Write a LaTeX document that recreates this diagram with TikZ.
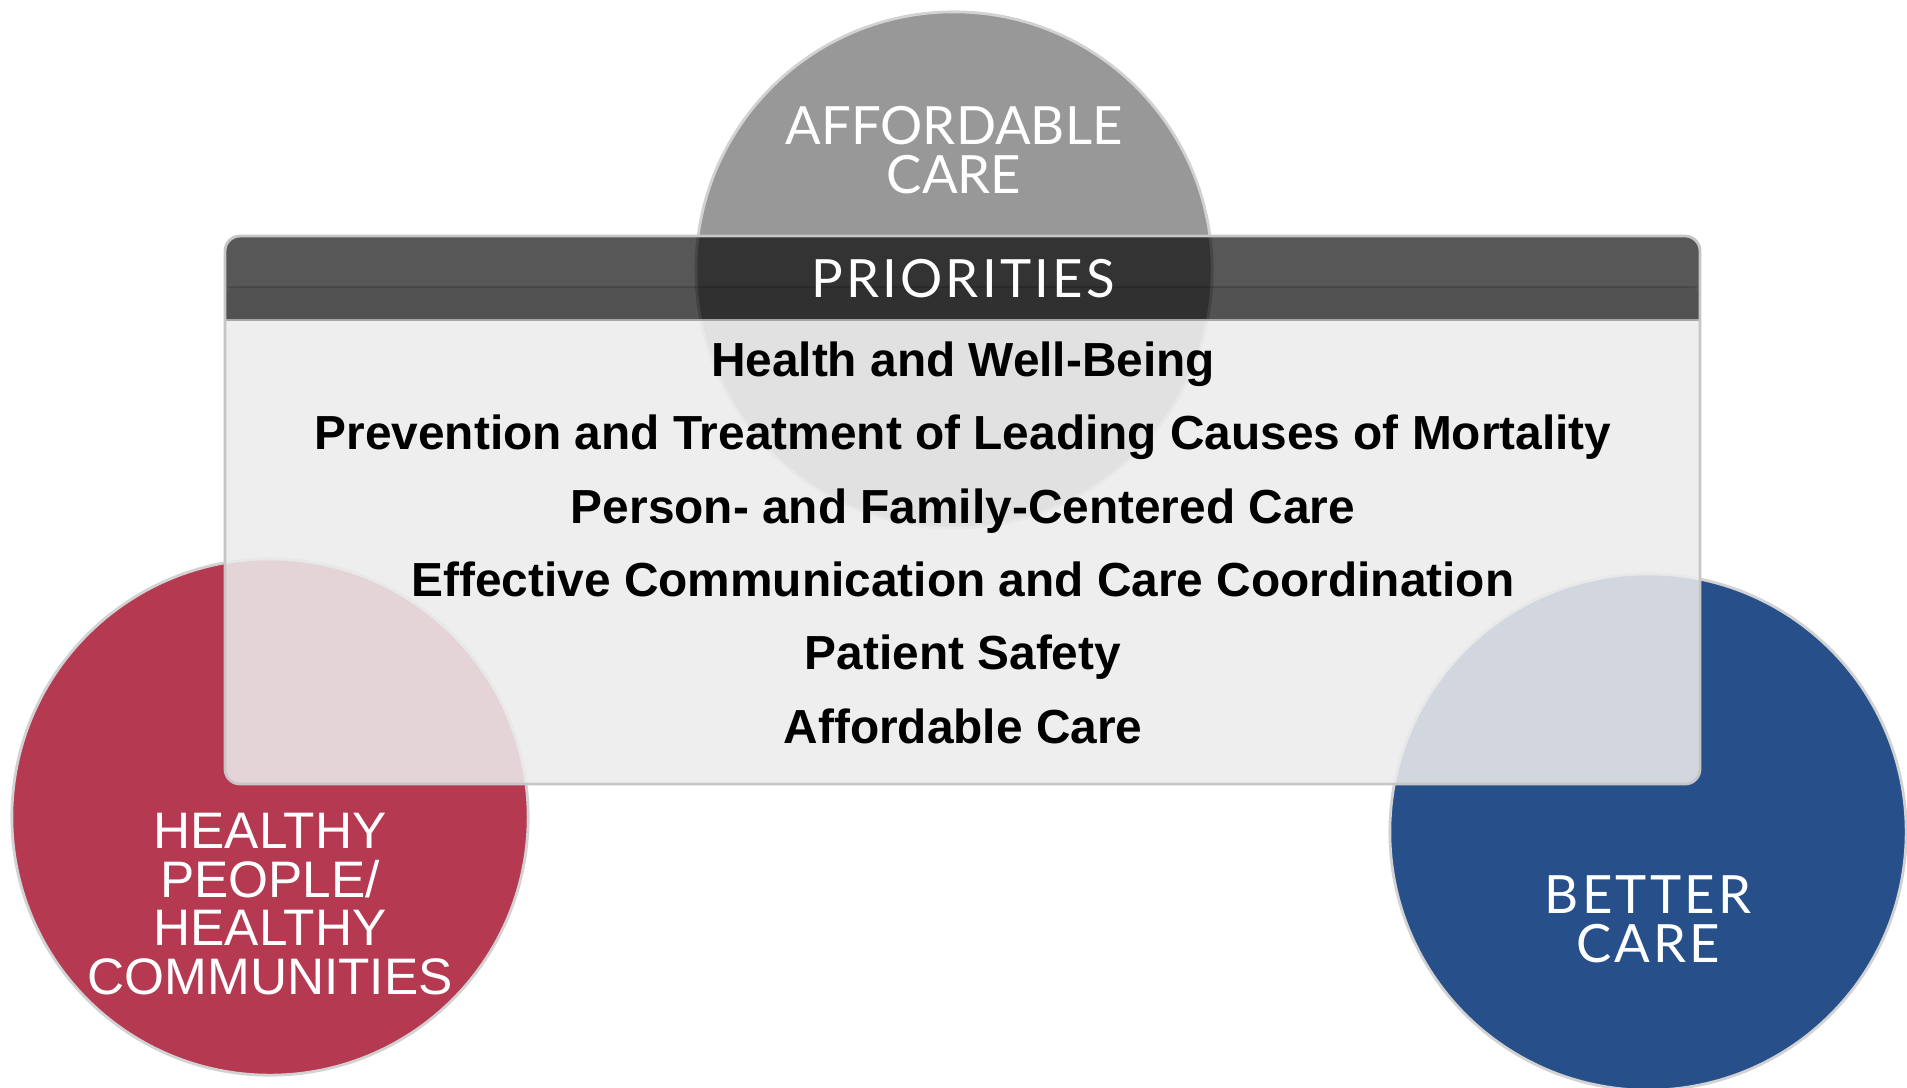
\documentclass[tikz,border=0pt]{standalone}
\usepackage{fontspec}
\setmainfont{Liberation Sans}
\newfontfamily\goalfont[LetterSpace=6]{Lato}
\newfontfamily\narrowgoalfont{Lato}
\usetikzlibrary{positioning}
\definecolor{affordgray}{RGB}{152,152,152}
\definecolor{healthred}{RGB}{180,57,81}
\definecolor{careblue}{RGB}{39,80,138}
\definecolor{panelgray}{RGB}{236,236,236}

\tikzset{
  goal/.style={circle, minimum size=5.16cm, inner sep=0pt, draw=gray!35, line width=0.8pt},
  goaltext/.style={text=white, align=center, inner sep=0pt, font=\goalfont\fontsize{15}{14}\selectfont},
  redtext/.style={text=white, align=center, inner sep=0pt, font=\fontsize{14.6}{13.8}\selectfont},
  prio/.style={anchor=base, inner sep=0pt, font=\bfseries\fontsize{13.6}{16}\selectfont},
}

\begin{document}
\begin{tikzpicture}[x=0.01cm, y=-0.01cm]
  \useasboundingbox (0,0) rectangle (1907,1087);

  % Circles behind the panel
  \node[goal, fill=affordgray] (afford) at (954,270) {};
  \node[goal, fill=healthred] (healthy) at (270,817) {};
  \node[goal, fill=careblue] (better) at (1648,832) {};

  % Panel body
  \fill[panelgray, opacity=0.87] (225,320) [rounded corners=0.15cm] -- (225,784) -- (1700,784) [sharp corners] -- (1700,320) -- cycle;
  % Panel header
  \fill[black, opacity=0.66] (225,320) [rounded corners=0.15cm] -- (225,236) -- (1700,236) [sharp corners] -- (1700,320) -- cycle;
  \fill[black, opacity=0.06] (225,320) [rounded corners=0.12cm] -- (225,287) -- (1700,287) [sharp corners] -- (1700,320) -- cycle;
  \draw[black, opacity=0.15, line width=0.8pt] (228,287) -- (1697,287);
  \draw[gray!70, line width=0.8pt] (225,320) -- (1700,320);
  \draw[gray!45, line width=0.8pt, rounded corners=0.15cm] (225,236) rectangle (1700,784);

  % Header title
  \node[goaltext] (prioritiestitle) at (963,279) {PRIORITIES};

  % Priority list
  \node[prio] (wellbeing) at (963,376) {Health and Well-Being};
  \node[prio] (mortality) at (963,449) {Prevention and Treatment of Leading Causes of Mortality};
  \node[prio] (familycare) at (963,523) {Person- and Family-Centered Care};
  \node[prio] (coordination) at (963,596) {Effective Communication and Care Coordination};
  \node[prio] (safety) at (963,669) {Patient Safety};
  \node[prio] (affordcare) at (963,743) {Affordable Care};

  % Circle labels
  \node[goaltext, font=\narrowgoalfont\fontsize{15}{14}\selectfont] (affordlabel) at (954,150) {AFFORDABLE\\CARE};
  \node[redtext] (healthylabel) at (270,904) {HEALTHY\\PEOPLE/\\HEALTHY\\COMMUNITIES};
  \node[goaltext] (betterlabel) at (1648,919) {BETTER\\CARE};
\end{tikzpicture}
\end{document}
